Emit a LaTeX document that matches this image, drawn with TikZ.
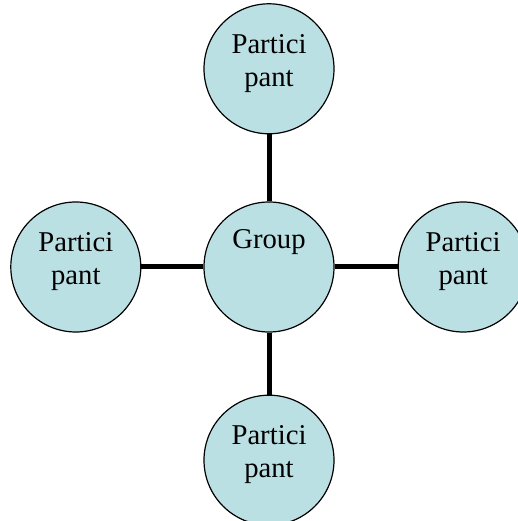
\documentclass[tikz,border=0pt]{standalone}
\usepackage{fontspec}
\setmainfont{Liberation Serif}
\usetikzlibrary{positioning}
\definecolor{bubble}{RGB}{187,224,227}

\begin{document}
\begin{tikzpicture}[x=1pt, y=1pt, node distance = 62pt,
        member/.style = {circle, draw, fill=bubble, line width=1.2pt,
            minimum size=130pt, inner sep=0pt, align=center, text depth=17pt,
            font=\fontsize{28.7}{33}\selectfont},
        link/.style = {line width=5pt}]
    \useasboundingbox (0,0) rectangle (517,521);
    \node [member] (group) at (269,254) {Group\\[6pt]\phantom{pant}};
    \node [member, above=67pt of group] (top) {Partici\\pant};
    \node [member, left=of group] (left) {Partici\\pant};
    \node [member, right=63pt of group] (right) {Partici\\pant};
    \node [member, below=of group] (bottom) {Partici\\pant};
    \draw [link] (group) -- (top);
    \draw [link] (group) -- (left);
    \draw [link] (group) -- (right);
    \draw [link] (group) -- (bottom);
\end{tikzpicture}
\end{document}
